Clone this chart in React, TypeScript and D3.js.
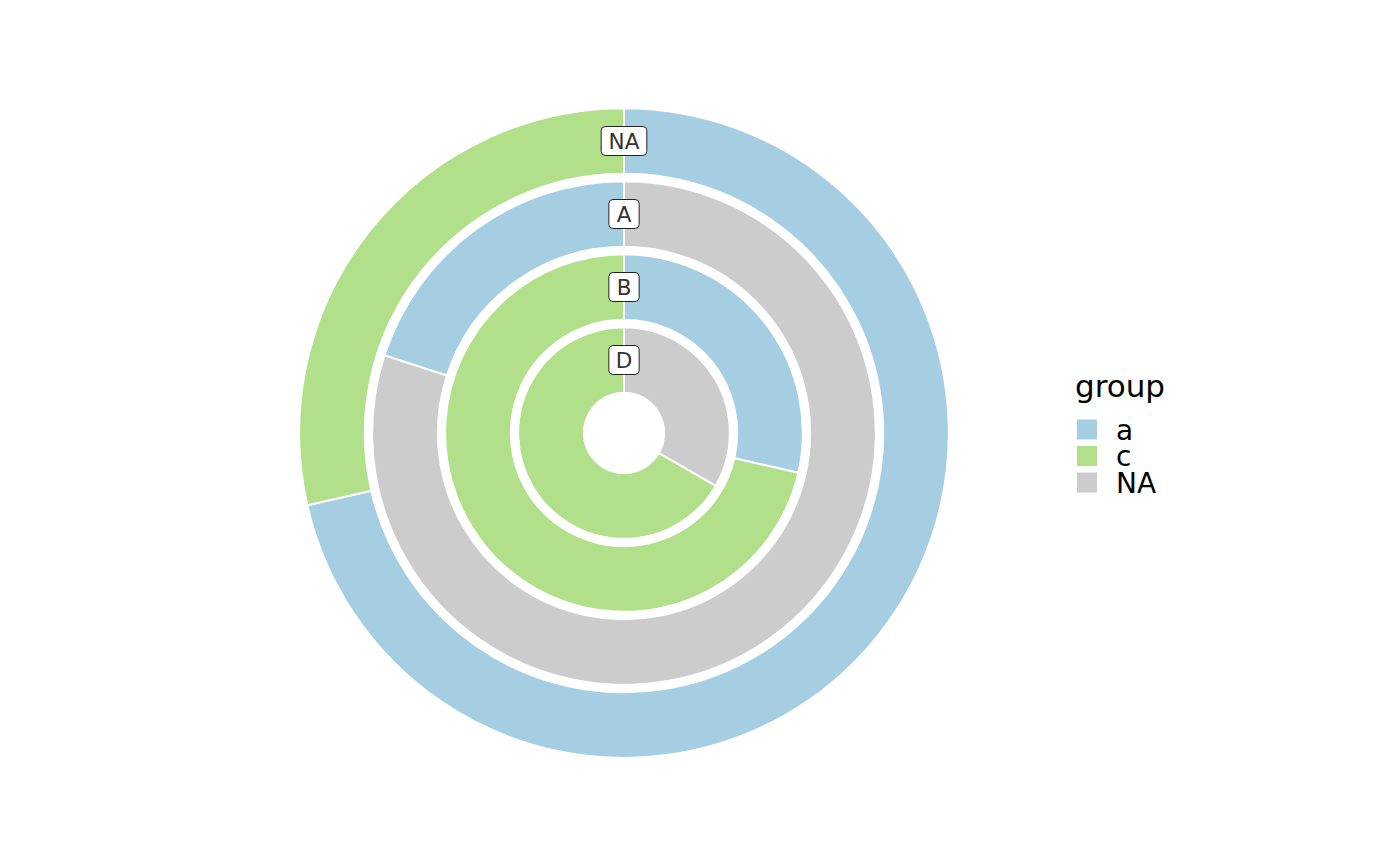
import React from "react";
import * as d3 from "d3";

const ringNames = ["D", "B", "A", "NA"];
// per-ring groups (clockwise from top) and counts
const ringGroups = [
  ["NA", "c"],
  ["a", "c"],
  ["NA", "a"],
  ["a", "c"],
];
const ringCounts = [
  [1, 2],
  [2, 5],
  [4, 1],
  [5, 2],
];
const legendKeys = ["a", "c", "NA"];
const colorValues = ["#A6CEE3", "#B2DF8A", "#CCCCCC"];

const W = 1400;
const H = 866;
const cx = 624;
const cy = 433;

export default function App() {
  const color = d3.scaleOrdinal<string, string>().domain(legendKeys).range(colorValues);
  const r = d3.scaleLinear().domain([0, 4.45]).range([0, 324.85]);
  const arc = d3.arc<any>();
  const pieces: any[] = [];
  ringNames.forEach((name, i) => {
    const total = d3.sum(ringCounts[i]);
    const ang = d3.scaleLinear().domain([0, total]).range([0, 2 * Math.PI]);
    let cum = 0;
    ringCounts[i].forEach((v, j) => {
      pieces.push({
        key: name + j,
        g: ringGroups[i][j],
        d: arc({
          innerRadius: r(i + 1 - 0.45),
          outerRadius: r(i + 1 + 0.45),
          startAngle: ang(cum),
          endAngle: ang(cum + v),
        }),
      });
      cum += v;
    });
  });
  return (
    <svg width={W} height={H} style={{ position: "absolute", left: 0, top: 0, background: "#fff" }}
      fontFamily="DejaVu Sans, sans-serif">
      <g transform={`translate(${cx},${cy})`}>
        {pieces.map((p) => (
          <path key={p.key} d={p.d} fill={color(p.g)} stroke="#fff" strokeWidth={2} />
        ))}
        {ringNames.map((name, i) => {
          const y = -r(i + 1);
          const tw = name.length * 15.3;
          const bw = tw + 15;
          return (
            <g key={name} transform={`translate(0,${y})`}>
              <rect x={-bw / 2} y={-14.5} width={bw} height={29} rx={4} ry={4}
                fill="#fff" stroke="#222" strokeWidth={1} />
              <text x={0} y={7.8} textAnchor="middle" fontSize={21.5} fill="#333">{name}</text>
            </g>
          );
        })}
      </g>
      <g>
        <text x={1075} y={397} fontSize={31} fill="#000">group</text>
        {legendKeys.map((k, i) => (
          <g key={k} transform={`translate(1077,${419.5 + i * 26.5})`}>
            <rect x={0} y={0} width={20} height={20} fill={color(k)} />
            <text x={39} y={20} fontSize={28} fill="#000">{k}</text>
          </g>
        ))}
      </g>
    </svg>
  );
}
